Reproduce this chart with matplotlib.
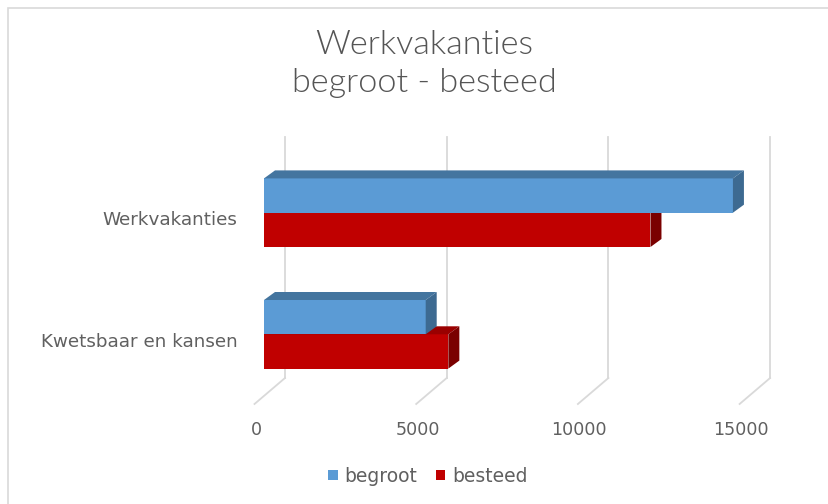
import matplotlib
matplotlib.use('Agg')
import matplotlib.pyplot as plt
from matplotlib.patches import Polygon, Patch, Rectangle
import numpy as np

plt.rcParams['font.family'] = ['DejaVu Sans']

# data
categories = ['Kwetsbaar en kansen', 'Werkvakanties']
begroot = [5000, 14500]
besteed = [5700, 11950]
xticks = [0, 5000, 10000, 15000]
series_names = ['begroot', 'besteed']

# colours (front, top, side)
blue = ('#5B9BD5', '#44759F', '#3D6A91')
red = ('#C00000', '#9A0000', '#7A0000')
grid_col = '#D9D9D9'
text_col = '#606060'

W, H = 829, 504
fig = plt.figure(figsize=(W / 100, H / 100), dpi=100)
fig.patch.set_facecolor('white')

# chart border
fig.patches.append(Rectangle((8 / W, -0.1), 1.2, 1.1 - 8.5 / H, transform=fig.transFigure,
                             fill=False, edgecolor=grid_col, linewidth=1.2))

# pixel -> data unit factors (oblique projection done in data units)
PX_X = 5000 / 161.7
PX_Y = 1 / 121.6
ax = fig.add_axes([0, 0, 1, 1])
ax.set_xlim(-264 * PX_X, (W - 264) * PX_X)
ax.set_ylim((334.3 - H) * PX_Y, 334.3 * PX_Y)
ax.axis('off')

bar_h = 34.3 * PX_Y
dep_x, dep_y = 11 * PX_X, 8 * PX_Y          # bar depth
wall_dx = 21 * PX_X                          # back wall offset
floor_dx = -9.5 * PX_X                       # front floor offset
floor_back, floor_front = -43.7 * PX_Y, -69.7 * PX_Y
wall_top = 197.3 * PX_Y

# back wall gridlines and floor lines
for v in xticks:
    ax.plot([v + wall_dx, v + wall_dx], [floor_back, wall_top], color=grid_col, lw=1.3, zorder=1)
    ax.plot([v + wall_dx, v + floor_dx], [floor_back, floor_front], color=grid_col, lw=1.3, zorder=1)
    ax.text(v + floor_dx + 1.5 * PX_X, floor_front - 26 * PX_Y, str(v), ha='center', va='center',
            fontsize=12.6, color=text_col)

def bar3d(y0, val, cols, z):
    ax.barh(y0, val, height=bar_h, align='edge', color=cols[0], linewidth=0, zorder=z)
    top = [(0, y0 + bar_h), (val, y0 + bar_h), (val + dep_x, y0 + bar_h + dep_y), (dep_x, y0 + bar_h + dep_y)]
    side = [(val, y0), (val + dep_x, y0 + dep_y), (val + dep_x, y0 + bar_h + dep_y), (val, y0 + bar_h)]
    ax.add_patch(Polygon(top, closed=True, facecolor=cols[1], edgecolor='none', zorder=z))
    ax.add_patch(Polygon(side, closed=True, facecolor=cols[2], edgecolor='none', zorder=z))

for i, cat in enumerate(categories):
    bar3d(i - bar_h, besteed[i], red, 2)
    bar3d(i, begroot[i], blue, 3)
    ax.text(-26.5 * PX_X, i - 7.3 * PX_Y, cat, ha='right', va='center', fontsize=13.2, color=text_col)

# title
fig.text(424 / W, 1 - 64 / H, 'Werkvakanties\nbegroot - besteed', ha='center', va='center',
         family=['Lato', 'DejaVu Sans'], fontweight=300,
         fontsize=24.7, color='#555555', linespacing=1.3)

# legend
handles = [Patch(facecolor=blue[0]), Patch(facecolor=red[0])]
fig.legend(handles, series_names, loc='center', bbox_to_anchor=(428 / W, 1 - 476 / H), ncol=2,
           frameon=False, fontsize=13.5, labelcolor=text_col, handlelength=0.5, handleheight=0.5,
           handletextpad=0.35, columnspacing=1.0)

fig.savefig('out.png', dpi=100)
